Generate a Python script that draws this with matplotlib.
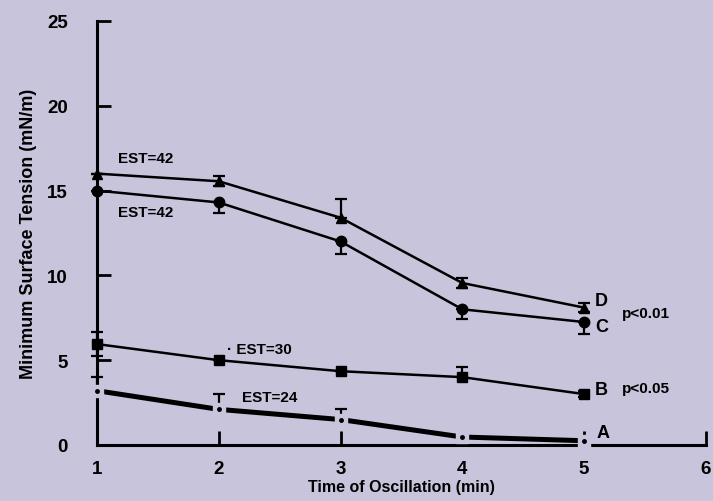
import matplotlib
matplotlib.use("Agg")
import matplotlib.pyplot as plt
import numpy as np

plt.rcParams['font.family'] = ['Liberation Sans', 'DejaVu Sans']
plt.rcParams['font.weight'] = 'bold'

time = [1, 2, 3, 4, 5]

# Series D (triangles)
d_vals = [16.0, 15.55, 13.4, 9.55, 8.1]
d_lo = [0.0, 0.3, 0.0, 0.3, 0.25]
d_hi = [0.0, 0.3, 1.1, 0.3, 0.25]
# Series C (circles)
c_vals = [15.0, 14.3, 12.0, 8.0, 7.25]
c_lo = [0.0, 0.6, 0.75, 0.6, 0.7]
c_hi = [0.0, 0.0, 0.0, 0.0, 0.0]
# Series B (squares)
b_vals = [5.95, 5.0, 4.35, 4.0, 3.0]
b_lo = [0.7, 0.0, 0.0, 0.0, 0.2]
b_hi = [0.7, 0.0, 0.0, 0.6, 0.2]
# Series A (dots, thick line)
a_vals = [3.2, 2.1, 1.5, 0.47, 0.25]
a_lo = [0.0, 0.0, 0.0, 0.0, 0.0]
a_hi = [0.8, 0.9, 0.6, 0.0, 0.0]

x_ticks = [1, 2, 3, 4, 5, 6]
y_ticks = [0, 5, 10, 15, 20, 25]

bg = '#c8c4dc'
fig = plt.figure(figsize=(7.13, 5.02), dpi=100, facecolor=bg)
ax = fig.add_axes([0.136, 0.1116, 0.854, 0.8446])
ax.set_facecolor(bg)

lw = 1.8
ek = dict(capsize=4, elinewidth=1.6, capthick=1.6, ecolor='black', clip_on=False)

ax.errorbar(time, d_vals, yerr=[d_lo, d_hi], fmt='-', color='black', lw=lw,
            marker='^', ms=7.5, mfc='black', mec='black', **ek)
ax.errorbar(time, c_vals, yerr=[c_lo, c_hi], fmt='-', color='black', lw=lw,
            marker='o', ms=7.5, mfc='black', mec='black', **ek)
ax.errorbar(time, b_vals, yerr=[b_lo, b_hi], fmt='-', color='black', lw=lw,
            marker='s', ms=7.5, mfc='black', mec='black', **ek)
# Series A: thick line with gaps at points
ax.errorbar(time, a_vals, yerr=[a_lo, a_hi], fmt='none', **ek)
ax.plot(time, a_vals, '-', color='black', lw=3.6, clip_on=False, zorder=3)
ax.plot(time, a_vals, 's', ms=8, mfc=bg, mec=bg, clip_on=False, zorder=4)
ax.plot(time, a_vals, 'o', ms=2.5, mfc='black', mec='black', clip_on=False, zorder=5)

ax.set_xlim(1, 6)
ax.set_ylim(0, 25)
ax.set_xticks(x_ticks)
ax.set_yticks(y_ticks)
ax.set_xticklabels([str(v) for v in x_ticks], fontsize=13.5, fontweight='bold')
ax.set_yticklabels([str(v) for v in y_ticks], fontsize=13.5, fontweight='bold')

for s in ['top', 'right']:
    ax.spines[s].set_visible(False)
for s in ['left', 'bottom']:
    ax.spines[s].set_linewidth(2.2)
    ax.spines[s].set_color('black')
ax.tick_params(axis='both', direction='in', length=10, width=2.0, color='black')
ax.tick_params(axis='x', pad=11)
ax.tick_params(axis='y', pad=21)

ax.set_xlabel('Time of Oscillation (min)', fontsize=11.5, fontweight='bold', labelpad=1)
ax.set_ylabel('Minimum Surface Tension (mN/m)', fontsize=13, fontweight='bold', labelpad=7)

tk = dict(fontsize=11, fontweight='bold', va='center', ha='left')
ax.text(1.17, 16.9, 'EST=42', **tk)
ax.text(1.17, 13.75, 'EST=42', **tk)
ax.text(2.07, 5.65, '· EST=30', **tk)
ax.text(2.19, 2.85, 'EST=24', **tk)
ax.text(5.09, 8.5, 'D', fontsize=13, fontweight='bold', va='center', ha='left')
ax.text(5.09, 7.0, 'C', fontsize=13, fontweight='bold', va='center', ha='left')
ax.text(5.09, 3.3, 'B', fontsize=13, fontweight='bold', va='center', ha='left')
ax.text(5.10, 0.75, 'A', fontsize=13, fontweight='bold', va='center', ha='left')
ax.text(5.31, 7.8, 'p<0.01', **tk)
ax.text(5.31, 3.35, 'p<0.05', **tk)

fig.savefig('out.png', dpi=100, facecolor=bg)
